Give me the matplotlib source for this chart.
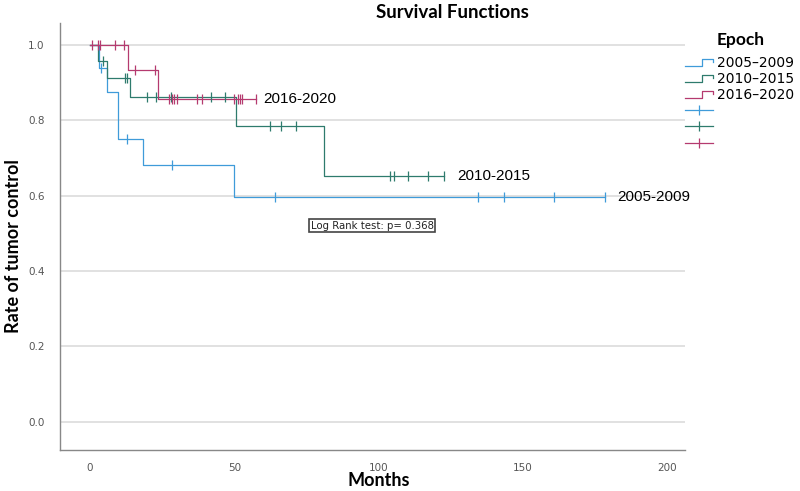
import numpy as np
import matplotlib
matplotlib.use("Agg")
import matplotlib.pyplot as plt
from matplotlib.lines import Line2D
from matplotlib.legend_handler import HandlerBase

# Kaplan-Meier step values (months, rate of control)
epochs = ["2005-2009", "2010-2015", "2016-2020"]
legend_labels = ["2005\u20132009", "2010\u20132015", "2016\u20132020"]

blue_times = [0, 3.1, 6.0, 9.8, 18.4, 49.7]
blue_surv = [1.0, 0.9375, 0.875, 0.75, 0.682, 0.597]
blue_end = 178.2
blue_censor = [3.9, 12.7, 28.4, 64.0, 134.5, 143.3, 160.8, 178.2]

green_times = [0, 2.9, 6.0, 13.8, 50.6, 80.9]
green_surv = [1.0, 0.958, 0.912, 0.862, 0.785, 0.653]
green_end = 122.7
green_censor = [4.4, 12.0, 12.7, 19.6, 22.8, 28.1, 41.9, 46.8, 62.4, 66.2,
                71.2, 103.8, 105.2, 110.2, 117.1, 122.7]

red_times = [0, 13.0, 23.5]
red_surv = [1.0, 0.933, 0.857]
red_end = 57.5
red_censor = [0.8, 2.7, 3.4, 8.7, 11.6, 15.6, 22.6, 27.4, 28.4, 29.1, 30.0,
              36.9, 38.8, 49.7, 51.4, 52.1, 52.7, 57.5]

p_value = 0.368

colors = ["#3f9bd9", "#2e7b6d", "#b53a6f"]
label_offsets = [13, 13, 7]


class StepHandler(HandlerBase):
    """Draws the little step glyph SPSS uses in its legend."""

    def create_artists(self, legend, orig_handle, xdescent, ydescent,
                       width, height, fontsize, trans):
        x0, y0 = -xdescent, -ydescent
        xs = [x0, x0 + 0.62 * width, x0 + 0.62 * width, x0 + width,
              x0 + width]
        ys = [y0 + 0.15 * height, y0 + 0.15 * height, y0 + 0.85 * height,
              y0 + 0.85 * height, y0 + 0.55 * height]
        line = Line2D(xs, ys, color=orig_handle.get_color(),
                      lw=orig_handle.get_linewidth(), transform=trans)
        return [line]


fig = plt.figure(figsize=(8, 4.91), dpi=100)
ax = fig.add_axes([0.075, 0.0835, 0.781, 0.8695])

groups = [
    (blue_times, blue_surv, blue_end, blue_censor),
    (green_times, green_surv, green_end, green_censor),
    (red_times, red_surv, red_end, red_censor),
]

step_handles = []
censor_handles = []
for (times, surv, end, cens), color, name, off in zip(groups, colors,
                                                       epochs, label_offsets):
    t = np.array(times + [end])
    s = np.array(surv + [surv[-1]])
    line, = ax.step(t, s, where="post", color=color, lw=0.9, zorder=3)
    idx = np.searchsorted(np.array(times), np.array(cens), side="right") - 1
    cy = np.array(surv)[idx]
    ax.plot(cens, cy, ls="none", marker="|", ms=6.5, mew=0.9,
            color=color, zorder=4)
    ax.annotate(name, xy=(end, surv[-1]), xytext=(off, 0),
                textcoords="offset pixels", va="center", ha="left",
                fontsize=11, family="Liberation Sans", color="black")
    step_handles.append(line)
    censor_handles.append(Line2D([], [], color=color, lw=0.9, marker="|",
                                 ms=7, mew=0.9))

ax.set_xlim(-10.4, 206)
ax.set_ylim(-0.075, 1.058)
ax.set_xticks([0, 50, 100, 150, 200])
ax.set_yticks([0.0, 0.2, 0.4, 0.6, 0.8, 1.0])
ax.yaxis.set_major_formatter(matplotlib.ticker.FormatStrFormatter("%.1f"))
ax.tick_params(length=0, labelsize=7.5, labelcolor="#555555")
ax.tick_params(axis="y", pad=11)
ax.tick_params(axis="x", pad=9)
ax.grid(axis="y", color="#d9d9d9", lw=1.1)
ax.set_axisbelow(True)
for side in ["top", "right"]:
    ax.spines[side].set_visible(False)
for side in ["left", "bottom"]:
    ax.spines[side].set_color("#888888")
    ax.spines[side].set_linewidth(1.0)

fig.text(379 / 800, 1 - 481 / 491, "Months", ha="center", va="center",
         fontsize=13, fontweight="bold", family="Lato")
fig.text(14 / 800, 1 - 246 / 491, "Rate of tumor control", ha="center",
         va="center", rotation=90, fontsize=13, fontweight="bold",
         family="Lato")

ax.text(0.5, 0.525, f"Log Rank test: p= {p_value}", transform=ax.transAxes,
        ha="center", va="center", fontsize=7.3, color="#222222",
        bbox=dict(boxstyle="square,pad=0.15", fc="white", ec="#444444",
                  lw=1.2))

fig.text(452 / 800, 1 - 12 / 491, "Survival Functions", ha="center",
         va="center", fontsize=13.5, fontweight="bold", family="Lato")

fig.text(717 / 800, 1 - 40 / 491, "Epoch", ha="left", va="center",
         fontsize=12.5, fontweight="bold", family="Lato")

handler_map = {h: StepHandler() for h in step_handles}
fig.legend(step_handles + censor_handles, legend_labels + ["", "", ""],
           handler_map=handler_map, loc="upper left",
           bbox_to_anchor=(685 / 800, 1 - 56 / 491), frameon=False,
           fontsize=10, handlelength=2.0, handletextpad=0.3,
           labelspacing=0.15, borderpad=0, borderaxespad=0, numpoints=1)

fig.savefig("out.png", dpi=100)
